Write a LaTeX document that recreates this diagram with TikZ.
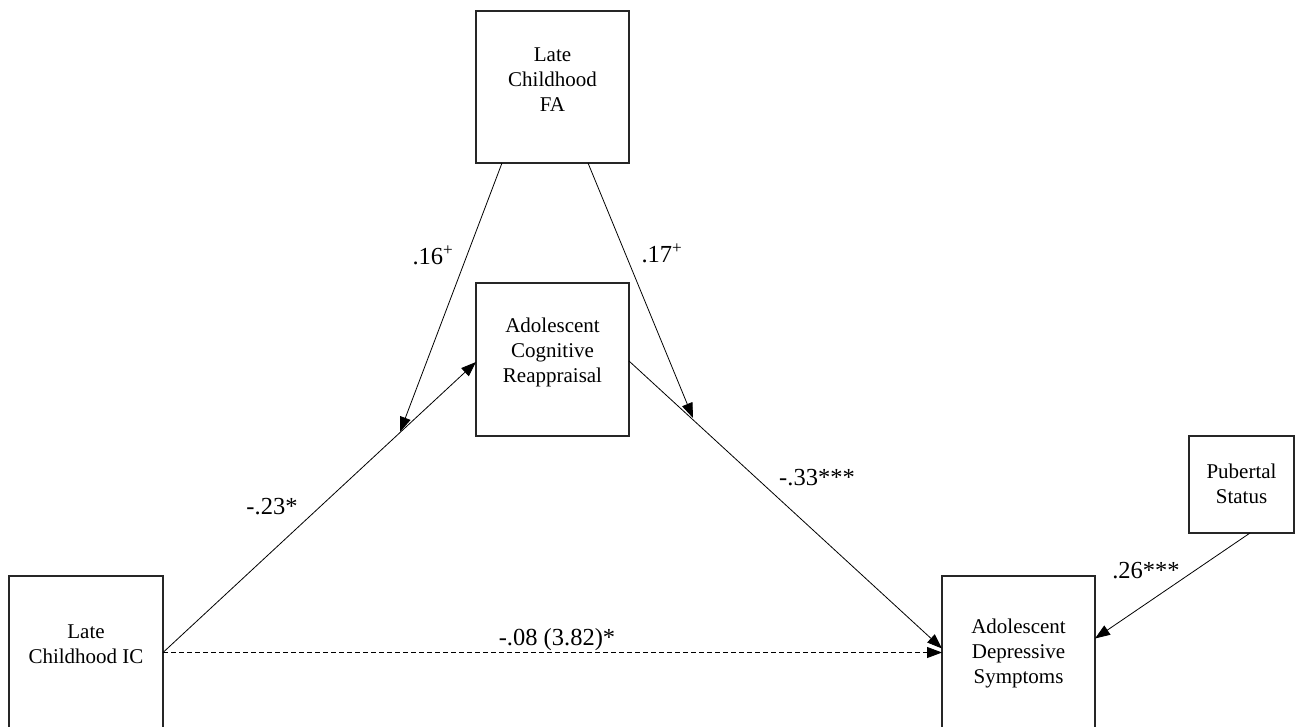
\documentclass[tikz,border=0pt]{standalone}
\usepackage{fontspec}
\setmainfont{Liberation Serif}
\usetikzlibrary{arrows.meta}
\begin{document}
\begin{tikzpicture}[x=1pt,y=-1pt,
  box/.style={draw=black!85,line width=1.4pt,inner sep=0pt,outer sep=0pt},
  boxtext/.style={align=center,inner sep=0pt,font=\fontsize{21}{25}\selectfont},
  lbl/.style={inner sep=0pt,font=\fontsize{24.5}{28}\selectfont},
  arr/.style={line width=0.8pt,-{Triangle[length=15pt,width=11pt]}},
]
\useasboundingbox (0,0) rectangle (1295,726);
\clip (0,0) rectangle (1295,726);
% boxes
\node[box,minimum width=153pt,minimum height=152pt] (fa) at (552.5,87) {};
\node[box,minimum width=153pt,minimum height=153pt] (med) at (552.5,359.5) {};
\node[box,minimum width=154pt,minimum height=153pt] (ic) at (86,652.5) {};
\node[box,minimum width=153pt,minimum height=153pt] (ds) at (1018.5,652.5) {};
\node[box,minimum width=105pt,minimum height=97pt] (pub) at (1241.5,484.5) {};
% box texts
\node[boxtext] (tfa) at (552.5,80) {Late\\Childhood\\FA};
\node[boxtext] (tmed) at (552.5,352) {Adolescent\\Cognitive\\Reappraisal};
\node[boxtext] (tic) at (86,644) {Late\\Childhood IC};
\node[boxtext] (tds) at (1018.5,653.5) {Adolescent\\Depressive\\Symptoms};
\node[boxtext] (tpub) at (1241.5,483.5) {Pubertal\\Status};
% moderation targets
\coordinate (m1) at (400,432);
\coordinate (m2) at (693,418);
% connectors
\draw[arr] (ic.east) -- ([yshift=-2.5pt]med.west);
\draw[arr] ([xshift=26pt]fa.south west) -- (m1);
\draw[arr] ([xshift=-41pt]fa.south east) -- (m2);
\draw[arr] ([yshift=-1.5pt]med.east) -- ([yshift=4pt]ds.west);
\draw[arr,dashed,dash pattern=on 5pt off 3pt] (ic.east) -- (ds.west);
\draw[arr] ([xshift=8.5pt]pub.south) -- ([yshift=14pt]ds.east);
% labels
\node[lbl] (l16) at (433,255) {.16\textsuperscript{+}};
\node[lbl] (l17) at (662,253) {.17\textsuperscript{+}};
\node[lbl] (l23) at (272,507) {-.23*};
\node[lbl] (l33) at (817,478) {-.33***};
\node[lbl] (l26) at (1146,571) {.26***};
\node[lbl] (l08) at (557,640) {-.08 (3.82)*};
\end{tikzpicture}
\end{document}
